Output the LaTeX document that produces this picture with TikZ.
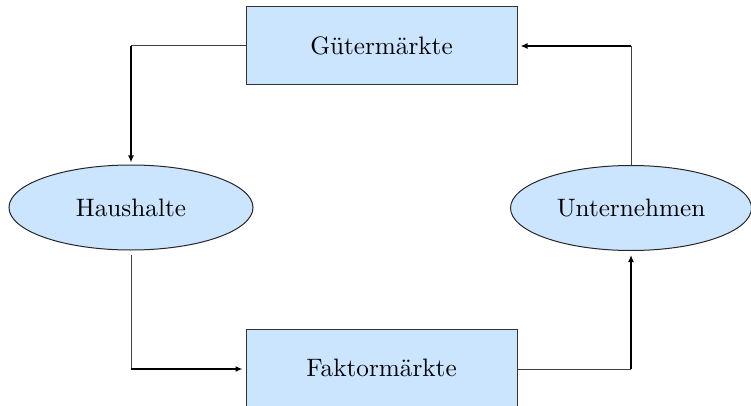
\documentclass[tikz,border=0pt]{standalone}
\usetikzlibrary{arrows.meta,shapes.geometric}
\font\labelfont="[lmroman10-regular]:mapping=tex-text" at 25.2pt
\definecolor{boxblue}{RGB}{204,229,255}
\begin{document}
\begin{tikzpicture}[x=1pt,y=-1pt,
  every node/.style={font=\labelfont},
  market/.style={draw=black!80,line width=1pt,fill=boxblue,rectangle,minimum width=271pt,minimum height=78pt,inner sep=0pt},
  agent/.style={draw=black!85,line width=1pt,fill=boxblue,ellipse,minimum width=244pt,minimum height=85pt,inner sep=0pt},
  thinline/.style={line width=1pt,draw=black!75},
  thickarrow/.style={line width=2pt,-{Latex[length=7pt,width=6pt]}}]
\useasboundingbox (0,0) rectangle (751,406);
\node[market] (g) at (381.5,46) {Gütermärkte};
\node[market] (f) at (381.5,368) {Faktormärkte};
\node[agent] (h) at (131,207.5) {Haushalte};
\node[agent,minimum width=241pt] (u) at (631,208) {Unternehmen};
\coordinate (c1) at (131,46);
\coordinate (c2) at (131,369);
\coordinate (c3) at (631,369);
\coordinate (c4) at (631,46);
\draw[thinline] (g.west) -- (c1);
\draw[thickarrow,shorten >=2pt] (c1) -- (h.north);
\draw[thinline,shorten <=4pt] (h.south) -- (c2);
\draw[thickarrow,shorten >=3pt] (c2) -- (f.west |- c2);
\draw[thinline] (f.east |- c3) -- (c3);
\draw[thickarrow,shorten >=4pt] (c3) -- (u.south);
\draw[thinline] (u.north) -- (c4);
\draw[thickarrow,shorten >=3pt] (c4) -- (g.east |- c4);
\end{tikzpicture}
\end{document}
